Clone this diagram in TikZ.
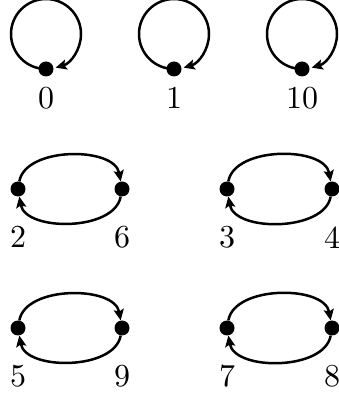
\documentclass[tikz,border=0pt]{standalone}
\usetikzlibrary{arrows.meta,positioning}
\begin{document}
\begin{tikzpicture}[x=1pt,y=1pt,
  dot/.style={circle,fill,inner sep=0pt,minimum size=15pt},
  lbl/.style={inner sep=0pt,scale=3.2},
  edge/.style={line width=2.5pt,-{Stealth[length=11pt,width=10pt,inset=2pt]}}]
\useasboundingbox (0,0) rectangle (338,396);
\node[dot] (n0) at (46,327) {};
\node[dot] (n1) at (174,327) {};
\node[dot] (n10) at (302,327) {};
\node[dot] (n2) at (18,207) {};
\node[dot] (n6) at (122,207) {};
\node[dot] (n3) at (227,207) {};
\node[dot] (n4) at (332,207) {};
\node[dot] (n5) at (18,68) {};
\node[dot] (n9) at (122,68) {};
\node[dot] (n7) at (227,68) {};
\node[dot] (n8) at (332,68) {};
\foreach \n in {0,1,10} {
  \node[lbl, below=10pt of n\n] (l\n) {\n};
  \draw[edge] (n\n.center) arc[start angle=-90,delta angle=-344,radius=35];
}
\foreach \a/\b in {2/6,3/4,5/9,7/8} {
  \node[lbl, below=29pt of n\a] (l\a) {\a};
  \node[lbl, below=29pt of n\b] (l\b) {\b};
  \draw[edge] (n\a) to[out=80,in=100,looseness=0.9] (n\b);
  \draw[edge] (n\b) to[out=-100,in=-80,looseness=0.9] (n\a);
}
\end{tikzpicture}
\end{document}
